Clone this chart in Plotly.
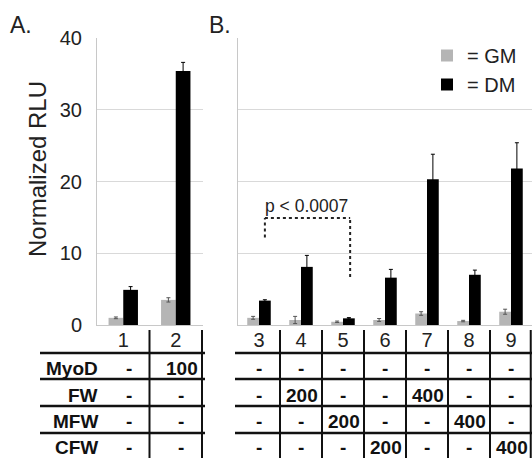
import plotly.graph_objects as go

# ---- data ----
cats_a = ["1", "2"]
gm_a = [1.0, 3.5]
gm_a_err = [0.12, 0.3]
dm_a = [4.9, 35.4]
dm_a_err = [0.45, 1.2]

cats_b = ["3", "4", "5", "6", "7", "8", "9"]
gm_b = [1.0, 0.7, 0.45, 0.7, 1.6, 0.55, 1.85]
gm_b_err = [0.2, 0.5, 0.1, 0.2, 0.25, 0.1, 0.35]
dm_b = [3.4, 8.1, 0.93, 6.6, 20.3, 7.0, 21.8]
dm_b_err = [0.12, 1.6, 0.1, 1.15, 3.5, 0.65, 3.6]

row_labels = ["MyoD", "FW", "MFW", "CFW"]
myod = ["-", "100", "-", "-", "-", "-", "-", "-", "-"]
fw = ["-", "-", "-", "200", "-", "-", "400", "-", "-"]
mfw = ["-", "-", "-", "-", "200", "-", "-", "400", "-"]
cfw = ["-", "-", "-", "-", "-", "200", "-", "-", "400"]
table_rows = [myod, fw, mfw, cfw]

y_ticks = [0, 10, 20, 30, 40]

W, H = 532, 458
GM_COLOR = "#b5b5b5"
DM_COLOR = "#000000"
TXT = "#222222"
FONT = "Liberation Sans, Arial, sans-serif"


def px(x):
    return x / W


def py(y):
    return (H - y) / H


fig = go.Figure()

fig.add_trace(go.Bar(x=cats_a, y=gm_a, name="= GM", marker_color=GM_COLOR,
                     marker_line_width=0, legendgroup="gm",
                     error_y=dict(type="data", array=gm_a_err, color="#555", thickness=1, width=2),
                     xaxis="x", yaxis="y"))
fig.add_trace(go.Bar(x=cats_a, y=dm_a, name="= DM", marker_color=DM_COLOR,
                     marker_line_width=0, legendgroup="dm",
                     error_y=dict(type="data", array=dm_a_err, color="#000", thickness=1, width=2),
                     xaxis="x", yaxis="y"))
fig.add_trace(go.Bar(x=cats_b, y=gm_b, name="= GM", marker_color=GM_COLOR,
                     marker_line_width=0, legendgroup="gm", showlegend=False,
                     error_y=dict(type="data", array=gm_b_err, color="#555", thickness=1, width=2),
                     xaxis="x2", yaxis="y2"))
fig.add_trace(go.Bar(x=cats_b, y=dm_b, name="= DM", marker_color=DM_COLOR,
                     marker_line_width=0, legendgroup="dm", showlegend=False,
                     error_y=dict(type="data", array=dm_b_err, color="#000", thickness=1, width=2),
                     xaxis="x2", yaxis="y2"))

ydom = [py(325), py(38)]
axis_common = dict(showgrid=False, zeroline=False, showline=True, linecolor="#c8c8c8",
                   linewidth=1, ticks="", ticklabelstandoff=-3,
                   tickfont=dict(size=20, color=TXT, family=FONT), fixedrange=True)
fig.update_layout(
    width=W, height=H, autosize=False,
    margin=dict(l=0, r=0, t=0, b=0, pad=0, autoexpand=False),
    paper_bgcolor="white", plot_bgcolor="white",
    barmode="group", bargap=0.44, bargroupgap=0,
    font=dict(family=FONT, color=TXT),
    xaxis=dict(domain=[px(97), px(203)], anchor="y", **axis_common),
    xaxis2=dict(domain=[px(238), 1.0], anchor="y2", **axis_common),
    yaxis=dict(domain=ydom, range=[0, 40], tickvals=y_ticks, showgrid=True,
               gridcolor="#d9d9d9", gridwidth=1, zeroline=False, showline=True,
               linecolor="#c8c8c8", ticks="", ticklabelstandoff=10,
               tickfont=dict(size=20, color=TXT, family=FONT), anchor="x", fixedrange=True),
    yaxis2=dict(domain=ydom, range=[0, 40], tickvals=y_ticks, showgrid=True,
                gridcolor="#d9d9d9", gridwidth=1, zeroline=False, showline=True,
                linecolor="#c8c8c8", showticklabels=False, ticks="", anchor="x2",
                fixedrange=True),
    legend=dict(x=px(427), y=py(36), xanchor="left", yanchor="top",
                font=dict(size=20, color=TXT, family=FONT), bgcolor="rgba(0,0,0,0)",
                tracegroupgap=0, itemsizing="constant"),
)

shapes = []
annotations = []

# significance bracket (in panel B data coordinates)
dot = dict(color="#222", width=2, dash="dot")
shapes.append(dict(type="line", xref="x2", yref="y2", x0=0.14, x1=0.14, y0=12.2, y1=14.9, line=dot))
shapes.append(dict(type="line", xref="x2", yref="y2", x0=0.14, x1=2.17, y0=14.9, y1=14.9, line=dot))
shapes.append(dict(type="line", xref="x2", yref="y2", x0=2.17, x1=2.17, y0=6.7, y1=14.9, line=dot))
annotations.append(dict(xref="x2", yref="y2", x=1.12, y=16.6, text="p < 0.0007", showarrow=False,
                        font=dict(size=17.5, color=TXT, family=FONT)))

# table vertical separators
for i in range(len(cats_a)):
    shapes.append(dict(type="line", xref="x", yref="paper", x0=i + 0.5, x1=i + 0.5,
                       y0=py(330), y1=0, line=dict(color="#111", width=2)))
for i in range(len(cats_b)):
    xx = i + 0.5
    if i == len(cats_b) - 1:
        xx = i + 0.47
    shapes.append(dict(type="line", xref="x2", yref="paper", x0=xx, x1=xx,
                       y0=py(330), y1=0, line=dict(color="#111", width=2)))

# table horizontal lines
for yl in [353, 379, 406, 433]:
    shapes.append(dict(type="line", xref="paper", yref="paper", x0=px(40), x1=px(205),
                       y0=py(yl), y1=py(yl), line=dict(color="#111", width=2.5)))
    shapes.append(dict(type="line", xref="paper", yref="paper", x0=px(235), x1=1.0,
                       y0=py(yl), y1=py(yl), line=dict(color="#111", width=2.5)))

row_y = [368, 395, 421, 447]
bold = dict(size=19, color="#111", family=FONT, weight="bold")
for r, lab in enumerate(row_labels):
    annotations.append(dict(xref="paper", yref="paper", x=px(100), y=py(row_y[r]), text="<b>%s</b>" % lab,
                            xanchor="right", yanchor="middle", showarrow=False, font=bold))
    for c, val in enumerate(table_rows[r]):
        if c < len(cats_a):
            xr, xi = "x", c
        else:
            xr, xi = "x2", c - len(cats_a)
        if val == "-":
            annotations.append(dict(xref=xr, yref="paper", x=xi + 0.5, y=py(row_y[r]), xshift=-21,
                                    text="<b>-</b>", xanchor="center", yanchor="middle",
                                    showarrow=False, font=bold))
        else:
            annotations.append(dict(xref=xr, yref="paper", x=xi + 0.5, y=py(row_y[r]), xshift=-2,
                                    text="<b>%s</b>" % val, xanchor="right", yanchor="middle",
                                    showarrow=False, font=bold))

# panel letters and y title
annotations.append(dict(xref="paper", yref="paper", x=px(8), y=py(25), text="A.", xanchor="left",
                        yanchor="middle", showarrow=False, font=dict(size=23, color=TXT, family=FONT)))
annotations.append(dict(xref="paper", yref="paper", x=px(207), y=py(25), text="B.", xanchor="left",
                        yanchor="middle", showarrow=False, font=dict(size=23, color=TXT, family=FONT)))
annotations.append(dict(xref="paper", yref="paper", x=px(37), y=py(169), text="Normalized RLU",
                        textangle=-90, xanchor="center", yanchor="middle", showarrow=False,
                        font=dict(size=24, color=TXT, family=FONT)))

fig.update_layout(shapes=shapes, annotations=annotations)
fig.write_html("out.html", config={"displayModeBar": False},
               post_script="document.body.style.margin='0px';document.body.style.overflow='hidden';")
